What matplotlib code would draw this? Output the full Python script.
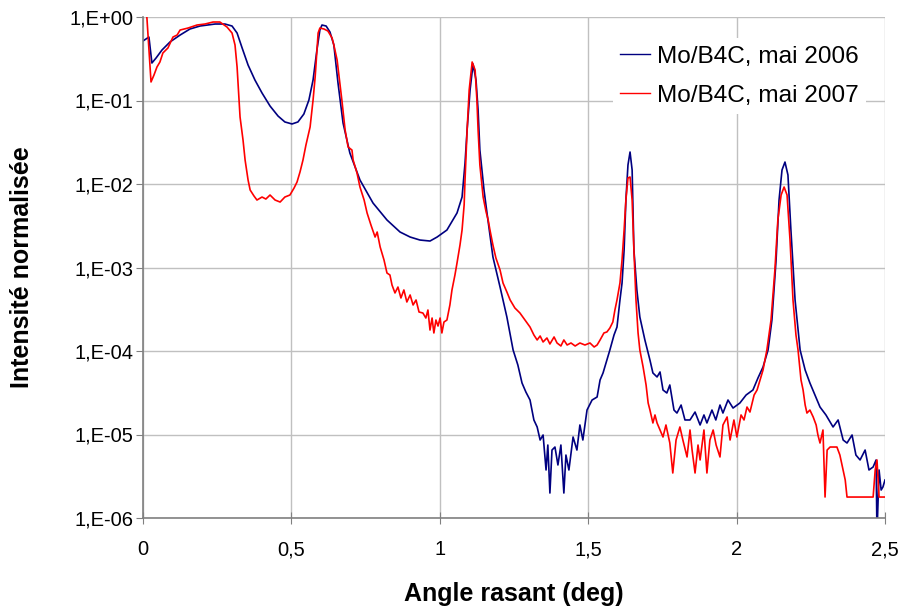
import numpy as np
import matplotlib
matplotlib.use("Agg")
import matplotlib.pyplot as plt

# angle (deg) and log10 of normalised intensity
angle_2006 = [0.000, 0.010, 0.020, 0.030, 0.044, 0.064, 0.091, 0.125, 0.158, 0.192,
              0.243, 0.276, 0.300, 0.317, 0.334, 0.354, 0.377, 0.401, 0.428, 0.455,
              0.478, 0.502, 0.522, 0.542, 0.559, 0.573, 0.586, 0.596, 0.603, 0.617,
              0.630, 0.643, 0.657, 0.674, 0.697, 0.731, 0.775, 0.822, 0.866, 0.900,
              0.933, 0.967, 0.991, 1.024, 1.058, 1.075, 1.085, 1.092, 1.102, 1.112,
              1.122, 1.129, 1.135, 1.149, 1.159, 1.179, 1.203, 1.226, 1.247, 1.263,
              1.277, 1.290, 1.304, 1.317, 1.328, 1.338, 1.348, 1.358, 1.364, 1.371,
              1.378, 1.388, 1.398, 1.408, 1.418, 1.425, 1.435, 1.449, 1.462, 1.472,
              1.482, 1.496, 1.513, 1.530, 1.540, 1.550, 1.563, 1.573, 1.587, 1.597,
              1.607, 1.614, 1.621, 1.627, 1.634, 1.641, 1.648, 1.654, 1.664, 1.674,
              1.691, 1.708, 1.718, 1.732, 1.742, 1.752, 1.765, 1.775, 1.789, 1.799,
              1.813, 1.826, 1.843, 1.860, 1.877, 1.890, 1.900, 1.917, 1.930, 1.944,
              1.954, 1.971, 1.988, 2.011, 2.032, 2.055, 2.072, 2.089, 2.106, 2.119,
              2.133, 2.143, 2.153, 2.163, 2.173, 2.183, 2.197, 2.214, 2.231, 2.247,
              2.264, 2.281, 2.301, 2.325, 2.342, 2.359, 2.372, 2.389, 2.402, 2.416,
              2.433, 2.446, 2.460, 2.470, 2.473, 2.480, 2.487, 2.493, 2.500]
log_2006 = [-0.287, -0.263, -0.240, -0.551, -0.491, -0.395, -0.299, -0.216, -0.144, -0.108,
            -0.084, -0.084, -0.108, -0.192, -0.371, -0.575, -0.754, -0.910, -1.066, -1.186,
            -1.257, -1.281, -1.257, -1.162, -0.994, -0.754, -0.395, -0.156, -0.096, -0.108,
            -0.180, -0.335, -0.790, -1.269, -1.629, -1.952, -2.228, -2.431, -2.575, -2.635,
            -2.671, -2.683, -2.635, -2.551, -2.347, -2.156, -1.749, -1.353, -0.874, -0.563,
            -0.754, -1.114, -1.593, -2.072, -2.347, -2.874, -3.234, -3.593, -3.988, -4.168,
            -4.383, -4.491, -4.587, -4.826, -4.910, -5.066, -5.006, -5.425, -5.126, -5.701,
            -5.186, -5.150, -5.365, -5.126, -5.701, -5.246, -5.425, -5.030, -5.186, -4.886,
            -5.066, -4.707, -4.587, -4.551, -4.347, -4.263, -4.108, -3.988, -3.808, -3.713,
            -3.389, -3.186, -2.790, -2.192, -1.772, -1.617, -1.832, -2.790, -3.269, -3.593,
            -3.868, -4.108, -4.263, -4.311, -4.251, -4.467, -4.503, -4.407, -4.707, -4.743,
            -4.647, -4.826, -4.826, -4.731, -4.886, -4.766, -4.862, -4.707, -4.826, -4.647,
            -4.743, -4.587, -4.683, -4.623, -4.527, -4.467, -4.323, -4.192, -3.988, -3.629,
            -2.910, -2.192, -1.832, -1.737, -1.892, -2.551, -3.389, -3.988, -4.228, -4.383,
            -4.527, -4.671, -4.766, -4.910, -4.826, -5.066, -5.102, -5.006, -5.246, -5.305,
            -5.186, -5.425, -5.389, -5.305, -6.200, -5.425, -5.665, -5.629, -5.545]

angle_2007 = [0.000, 0.013, 0.020, 0.027, 0.037, 0.047, 0.057, 0.067, 0.084, 0.101,
              0.115, 0.125, 0.152, 0.182, 0.209, 0.236, 0.259, 0.283, 0.300, 0.310,
              0.317, 0.327, 0.337, 0.344, 0.354, 0.361, 0.374, 0.384, 0.401, 0.414,
              0.428, 0.445, 0.462, 0.478, 0.495, 0.509, 0.519, 0.529, 0.539, 0.549,
              0.563, 0.573, 0.580, 0.586, 0.590, 0.596, 0.610, 0.623, 0.637, 0.643,
              0.654, 0.664, 0.670, 0.681, 0.691, 0.704, 0.708, 0.721, 0.731, 0.745,
              0.755, 0.768, 0.782, 0.789, 0.799, 0.812, 0.822, 0.832, 0.839, 0.849,
              0.859, 0.869, 0.879, 0.889, 0.900, 0.910, 0.920, 0.930, 0.943, 0.953,
              0.960, 0.967, 0.974, 0.980, 0.987, 0.994, 1.001, 1.007, 1.014, 1.024,
              1.034, 1.041, 1.051, 1.058, 1.068, 1.075, 1.082, 1.085, 1.092, 1.099,
              1.109, 1.119, 1.125, 1.129, 1.135, 1.146, 1.156, 1.163, 1.169, 1.179,
              1.189, 1.203, 1.213, 1.226, 1.237, 1.253, 1.270, 1.287, 1.304, 1.317,
              1.328, 1.338, 1.348, 1.361, 1.371, 1.385, 1.395, 1.408, 1.418, 1.429,
              1.442, 1.456, 1.472, 1.489, 1.506, 1.520, 1.530, 1.540, 1.553, 1.563,
              1.573, 1.583, 1.590, 1.597, 1.607, 1.614, 1.621, 1.627, 1.634, 1.641,
              1.648, 1.654, 1.661, 1.668, 1.674, 1.685, 1.695, 1.702, 1.708, 1.718,
              1.725, 1.732, 1.742, 1.752, 1.762, 1.775, 1.785, 1.796, 1.809, 1.819,
              1.833, 1.843, 1.850, 1.860, 1.870, 1.877, 1.890, 1.900, 1.910, 1.921,
              1.931, 1.944, 1.954, 1.968, 1.978, 1.991, 2.001, 2.015, 2.025, 2.035,
              2.045, 2.059, 2.069, 2.079, 2.089, 2.102, 2.116, 2.129, 2.139, 2.150,
              2.160, 2.170, 2.180, 2.190, 2.200, 2.207, 2.217, 2.224, 2.231, 2.237,
              2.247, 2.258, 2.268, 2.274, 2.281, 2.291, 2.298, 2.305, 2.315, 2.328,
              2.338, 2.348, 2.359, 2.366, 2.372, 2.406, 2.460, 2.467, 2.473, 2.480,
              2.500]
log_2007 = [0.300, 0.000, -0.395, -0.778, -0.695, -0.599, -0.539, -0.431, -0.371, -0.240,
            -0.216, -0.156, -0.132, -0.096, -0.084, -0.060, -0.060, -0.120, -0.192, -0.335,
            -0.599, -1.198, -1.473, -1.713, -1.952, -2.072, -2.144, -2.192, -2.156, -2.180,
            -2.132, -2.192, -2.216, -2.156, -2.132, -2.048, -1.976, -1.856, -1.713, -1.533,
            -1.317, -0.994, -0.719, -0.395, -0.192, -0.132, -0.144, -0.168, -0.251, -0.335,
            -0.515, -0.814, -0.994, -1.353, -1.557, -1.593, -1.713, -1.868, -2.036, -2.192,
            -2.347, -2.491, -2.635, -2.575, -2.754, -2.910, -3.066, -3.090, -3.210, -3.305,
            -3.234, -3.365, -3.269, -3.413, -3.329, -3.449, -3.389, -3.533, -3.545, -3.605,
            -3.509, -3.749, -3.605, -3.784, -3.629, -3.701, -3.605, -3.784, -3.653, -3.629,
            -3.449, -3.269, -3.090, -2.946, -2.731, -2.551, -2.251, -1.952, -1.353, -0.874,
            -0.539, -0.635, -0.994, -1.353, -1.772, -2.156, -2.335, -2.431, -2.551, -2.731,
            -2.886, -3.030, -3.186, -3.293, -3.389, -3.485, -3.545, -3.629, -3.713, -3.808,
            -3.868, -3.820, -3.892, -3.844, -3.916, -3.832, -3.904, -3.940, -3.868, -3.928,
            -3.904, -3.940, -3.904, -3.928, -3.904, -3.952, -3.928, -3.868, -3.784, -3.772,
            -3.725, -3.653, -3.509, -3.389, -3.186, -2.910, -2.551, -2.192, -1.928, -1.916,
            -2.192, -2.790, -3.389, -3.784, -3.988, -4.192, -4.407, -4.623, -4.707, -4.862,
            -4.766, -4.862, -4.946, -5.030, -4.886, -5.102, -5.461, -5.066, -4.910, -5.066,
            -5.269, -4.946, -5.186, -5.461, -5.126, -5.305, -4.946, -5.461, -5.066, -4.946,
            -5.126, -5.269, -4.886, -4.790, -5.066, -4.826, -5.030, -4.766, -4.826, -4.671,
            -4.731, -4.527, -4.467, -4.347, -4.228, -3.988, -3.629, -3.030, -2.431, -2.132,
            -2.036, -2.132, -2.671, -3.389, -3.808, -3.988, -4.347, -4.467, -4.647, -4.743,
            -4.707, -4.790, -4.886, -5.006, -5.102, -4.946, -5.749, -5.186, -5.150, -5.150,
            -5.150, -5.246, -5.425, -5.545, -5.749, -5.749, -5.749, -5.425, -5.305, -5.749,
            -5.749]

x_ticks = [0, 0.5, 1, 1.5, 2, 2.5]
x_tick_labels = ["0", "0,5", "1", "1,5", "2", "2,5"]
y_ticks = [1e-6, 1e-5, 1e-4, 1e-3, 1e-2, 1e-1, 1e0]
y_tick_labels = ["1,E-06", "1,E-05", "1,E-04", "1,E-03", "1,E-02", "1,E-01", "1,E+00"]

plt.rcParams['font.family'] = ['Liberation Sans', 'DejaVu Sans']

fig = plt.figure(figsize=(9.03, 6.10), dpi=100)
ax = fig.add_axes([143/903, 92/610, 742/903, 501/610])

ax.plot(angle_2006, 10 ** np.array(log_2006), color='#000080', lw=1.2,
        label='Mo/B4C, mai 2006')
ax.plot(angle_2007, 10 ** np.array(log_2007), color='#ff0000', lw=1.2,
        label='Mo/B4C, mai 2007')

ax.set_yscale('log')
ax.set_xlim(0, 2.5)
ax.set_ylim(1e-6, 1)
ax.set_xticks(x_ticks)
ax.set_xticklabels(x_tick_labels)
ax.set_yticks(y_ticks)
ax.set_yticklabels(y_tick_labels)
ax.yaxis.set_minor_locator(matplotlib.ticker.NullLocator())

ax.grid(True, color='#c0c0c0', lw=1)
ax.set_axisbelow(True)
for side in ['top', 'right']:
    ax.spines[side].set_visible(False)
for side in ['left', 'bottom']:
    ax.spines[side].set_color('#808080')
    ax.spines[side].set_linewidth(1.2)

ax.tick_params(axis='x', direction='inout', length=8, color='#808080',
               labelsize=14.5, pad=12)
ax.tick_params(axis='y', direction='out', length=5, color='#808080',
               labelsize=14.5, pad=2)

ax.set_xlabel('Angle rasant (deg)', fontsize=18, fontweight='bold')
ax.set_ylabel('Intensité normalisée', fontsize=18, fontweight='bold')
ax.xaxis.label.set_va('center')
ax.yaxis.label.set_va('center')
ax.xaxis.set_label_coords(0.5, (518 - 594) / 501)
ax.yaxis.set_label_coords((22 - 143) / 742, 0.5)

leg = ax.legend(loc='center', bbox_to_anchor=(0.804, 0.882), fontsize=17.6,
                frameon=True, facecolor='white', edgecolor='none', framealpha=1,
                handlelength=1.2, handletextpad=0.3, labelspacing=0.7,
                borderpad=0.3, fancybox=False)
for h in leg.get_lines():
    h.set_linewidth(1.0)

fig.savefig('out.png', dpi=100)
